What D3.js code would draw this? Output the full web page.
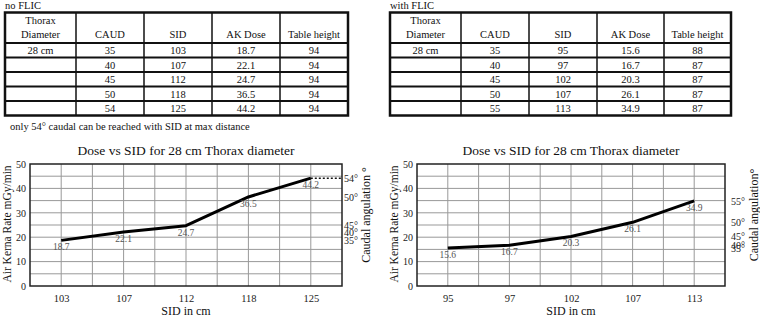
<!DOCTYPE html>
<html lang="en">
  <head>
    <meta charset="utf-8" />
    <title>Dose vs SID</title>
    <script src="https://cdnjs.cloudflare.com/ajax/libs/d3/7.8.5/d3.min.js"></script>
    <style type="text/css">
      body { margin: 0; background: #fff; }
      svg { display: block; font-family: 'Liberation Serif', 'Times New Roman', serif; }
      svg text { font-family: 'Liberation Serif', 'Times New Roman', serif; }
      .grid line { stroke: #999; stroke-width: 1; }
      .axis .domain { display: none; }
      .axis text { fill: #222; }
      .tbl text { font-size: 10.5px; fill: #111; text-anchor: middle; }
      .ptlabel { font-size: 9.5px; fill: #555; text-anchor: middle; }
    </style>
  </head>

  <body>
    <div id="chart"></div>

    <script>
      // Data
      const headers = ['CAUD', 'SID', 'AK Dose', 'Table height'];
      const thorax = '28 cm';

      const noFlicCaud = [35, 40, 45, 50, 54];
      const noFlicSid = [103, 107, 112, 118, 125];
      const noFlicDose = [18.7, 22.1, 24.7, 36.5, 44.2];
      const noFlicTable = [94, 94, 94, 94, 94];

      const flicCaud = [35, 40, 45, 50, 55];
      const flicSid = [95, 97, 102, 107, 113];
      const flicDose = [15.6, 16.7, 20.3, 26.1, 34.9];
      const flicTable = [88, 87, 87, 87, 87];

      const doseTicks = [0, 10, 20, 30, 40, 50];

      const width = 760;
      const height = 317;

      const svg = d3.select('#chart').append('svg')
        .attr('width', width)
        .attr('height', height);

      // Tables
      function drawTable(title, x0, cols, caud, sid, dose, tbl) {
        const g = svg.append('g').attr('class', 'tbl');
        const top = 12.5, headBottom = 43, rowH = 14.5;
        const nRows = caud.length;
        const bottom = headBottom + nRows * rowH;
        const edges = cols.map(c => x0 + c);

        g.append('text')
          .attr('x', x0 + 5).attr('y', 9)
          .style('text-anchor', 'start')
          .text(title);

        // horizontal lines
        const hy = [headBottom].concat(d3.range(1, nRows).map(i => headBottom + i * rowH));
        g.selectAll('line.h').data(hy).join('line')
          .attr('x1', edges[0]).attr('x2', edges[edges.length - 1])
          .attr('y1', d => d).attr('y2', d => d)
          .attr('stroke', '#111').attr('stroke-width', 2);
        // vertical lines
        g.selectAll('line.v').data(edges.slice(1, -1)).join('line')
          .attr('x1', d => d).attr('x2', d => d)
          .attr('y1', top).attr('y2', bottom)
          .attr('stroke', '#111').attr('stroke-width', 1.5);
        g.append('rect')
          .attr('x', edges[0]).attr('y', top)
          .attr('width', edges[edges.length - 1] - edges[0])
          .attr('height', bottom - top)
          .attr('fill', 'none').attr('stroke', '#111').attr('stroke-width', 2.5);

        const mid = i => (edges[i] + edges[i + 1]) / 2;

        g.append('text').attr('x', mid(0)).attr('y', 24).text('Thorax');
        g.append('text').attr('x', mid(0)).attr('y', 38).text('Diameter');
        headers.forEach((h, i) => {
          g.append('text').attr('x', mid(i + 1)).attr('y', 38).text(h);
        });

        const rows = caud.map((c, i) => [i === 0 ? thorax : '', c, sid[i], dose[i].toFixed(1), tbl[i]]);
        rows.forEach((r, ri) => {
          r.forEach((v, ci) => {
            g.append('text')
              .attr('x', mid(ci))
              .attr('y', headBottom + ri * rowH + 11)
              .text(v);
          });
        });
      }

      drawTable('no FLIC', 0, [5, 76, 144, 212, 280, 348],
        noFlicCaud, noFlicSid, noFlicDose, noFlicTable);
      drawTable('with FLIC', 385, [5, 76, 144, 212, 279, 346],
        flicCaud, flicSid, flicDose, flicTable);

      svg.append('text')
        .attr('x', 10).attr('y', 130)
        .style('font-size', '10.5px')
        .attr('fill', '#111')
        .text('only 54\u00b0 caudal can be reached with SID at max distance');

      // Charts
      function drawChart(opts) {
        const { left, right, caud, sid, dose, rightTitle, dotted, padR } = opts;
        const top = 164, bottom = 286;
        const g = svg.append('g');

        const x = d3.scalePoint().domain(sid).range([left, right]).padding(0.5);
        const y = d3.scaleLinear().domain([0, 50]).range([bottom, top]);

        // grid
        const grid = g.append('g').attr('class', 'grid');
        const half = x.step() / 2;
        grid.selectAll('line.gx').data(d3.range(1, sid.length * 2)).join('line')
          .attr('x1', d => left + d * half).attr('x2', d => left + d * half)
          .attr('y1', top).attr('y2', bottom);
        grid.selectAll('line.gy').data(d3.range(5, 50, 5)).join('line')
          .attr('x1', left).attr('x2', right)
          .attr('y1', d => y(d)).attr('y2', d => y(d));

        g.append('rect')
          .attr('x', left).attr('y', top)
          .attr('width', right - left).attr('height', bottom - top)
          .attr('fill', 'none').attr('stroke', '#222').attr('stroke-width', 1.5);

        // axes
        g.append('g').attr('class', 'axis')
          .attr('transform', `translate(${left},0)`)
          .call(d3.axisLeft(y).tickValues(doseTicks).tickSize(0).tickPadding(4))
          .selectAll('text').style('font-size', '10px');

        g.append('g').attr('class', 'axis')
          .attr('transform', `translate(0,${bottom})`)
          .call(d3.axisBottom(x).tickSize(0).tickPadding(9))
          .selectAll('text').style('font-size', '10.5px');

        g.append('g').attr('class', 'axis')
          .attr('transform', `translate(${right},0)`)
          .call(d3.axisRight(y).tickValues(dose).tickSize(0).tickPadding(padR)
            .tickFormat((d, i) => caud[i] + '\u00b0'))
          .selectAll('text').style('font-size', '10px');

        // dotted extension to the angle axis
        if (dotted) {
          const last = sid.length - 1;
          g.append('line')
            .attr('x1', x(sid[last])).attr('x2', right)
            .attr('y1', y(dose[last])).attr('y2', y(dose[last]))
            .attr('stroke', '#111').attr('stroke-width', 1.5)
            .attr('stroke-dasharray', '2,2');
        }

        const line = d3.line()
          .x((d, i) => x(sid[i]))
          .y(d => y(d));

        g.append('path')
          .datum(dose)
          .attr('fill', 'none')
          .attr('stroke', '#000')
          .attr('stroke-width', 3)
          .attr('stroke-linejoin', 'round')
          .attr('d', line);

        g.selectAll('text.ptlabel').data(dose).join('text')
          .attr('class', 'ptlabel')
          .attr('x', (d, i) => x(sid[i]))
          .attr('y', d => y(d) + 10)
          .text(d => d.toFixed(1));

        // titles
        g.append('text')
          .attr('x', (left + right) / 2).attr('y', 155)
          .attr('text-anchor', 'middle')
          .style('font-size', '13.5px')
          .attr('fill', '#111')
          .text('Dose vs SID for 28 cm Thorax diameter');

        g.append('text')
          .attr('x', (left + right) / 2).attr('y', 315)
          .attr('text-anchor', 'middle')
          .style('font-size', '12px')
          .attr('fill', '#111')
          .text('SID in cm');

        g.append('text')
          .attr('transform', `translate(${left - 19},224) rotate(-90)`)
          .attr('text-anchor', 'middle')
          .style('font-size', '11.5px')
          .attr('fill', '#111')
          .text('Air Kerna Rate mGy/min');

        g.append('text')
          .attr('transform', `translate(${opts.rightTitleX},215) rotate(-90)`)
          .attr('text-anchor', 'middle')
          .style('font-size', '12px')
          .attr('fill', '#111')
          .text(rightTitle);
      }

      drawChart({
        left: 30, right: 342,
        caud: noFlicCaud, sid: noFlicSid, dose: noFlicDose,
        rightTitle: 'Caudal angulation \u00b0', rightTitleX: 370,
        dotted: true, padR: 2
      });

      drawChart({
        left: 417, right: 725,
        caud: flicCaud, sid: flicSid, dose: flicDose,
        rightTitle: 'Caudal angulation\u00b0', rightTitleX: 758,
        dotted: false, padR: 6
      });
    </script>
  </body>
</html>
